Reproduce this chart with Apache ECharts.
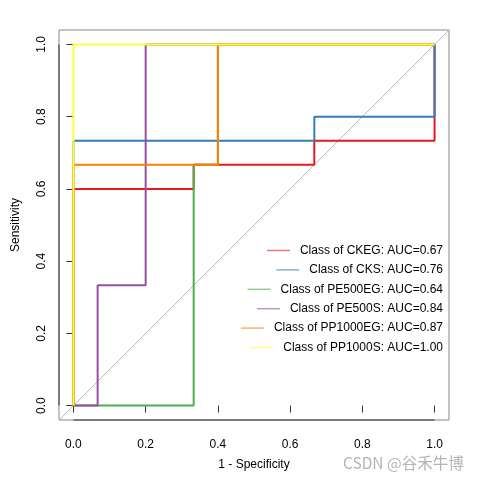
<!DOCTYPE html>
<html>
<head>
<meta charset="utf-8">
<script src="https://cdn.jsdelivr.net/npm/echarts@6/dist/echarts.min.js"></script>
<style>html,body{margin:0;padding:0;background:#fff}#c{width:480px;height:480px}</style>
</head>
<body>
<div id="c"></div>
<script>
// ---- data ----
var classNames = ['CKEG', 'CKS', 'PE500EG', 'PE500S', 'PP1000EG', 'PP1000S'];
var aucValues = ['0.67', '0.76', '0.64', '0.84', '0.87', '1.00'];
// ROC corner points: x = 1 - Specificity, y = Sensitivity
var fprCKEG     = [0, 0,   0.333, 0.333, 0.667, 0.667, 1,     1];
var tprCKEG     = [0, 0.6, 0.6,   0.667, 0.667, 0.733, 0.733, 1];
var fprCKS      = [0, 0,     0.667, 0.667, 1,   1];
var tprCKS      = [0, 0.733, 0.733, 0.8,   0.8, 1];
var fprPE500EG  = [0, 0.333, 0.333, 0.4,   0.4, 1];
var tprPE500EG  = [0, 0,     0.667, 0.667, 1,   1];
var fprPE500S   = [0, 0.067, 0.067, 0.2,   0.2, 1];
var tprPE500S   = [0, 0,     0.333, 0.333, 1,   1];
var fprPP1000EG = [0, 0,     0.4,   0.4, 1];
var tprPP1000EG = [0, 0.667, 0.667, 1,   1];
var fprPP1000S  = [0, 0, 1];
var tprPP1000S  = [0, 1, 1];
var xTicks = [0, 0.2, 0.4, 0.6, 0.8, 1.0];
var yTicks = [0, 0.2, 0.4, 0.6, 0.8, 1.0];
var axisMin = -0.04, axisMax = 1.04;

var fprs = [fprCKEG, fprCKS, fprPE500EG, fprPE500S, fprPP1000EG, fprPP1000S];
var tprs = [tprCKEG, tprCKS, tprPE500EG, tprPE500S, tprPP1000EG, tprPP1000S];
var colors = ['#E41A1C', '#377EB8', '#4DAF4A', '#984EA3', '#FF7F00', '#FFFF33'];

function zip(a, b) { return a.map(function (v, i) { return [v, b[i]]; }); }

var series = [];
// diagonal reference line (abline a=0,b=1) across the whole plot region
series.push({
  type: 'line', name: '_diag', data: [[axisMin, axisMin], [axisMax, axisMax]],
  symbol: 'none', silent: true, clip: false,
  lineStyle: { color: '#bbbbbb', width: 1 }, z: 1
});
// axis segments from first to last tick (R style)
series.push({
  type: 'line', name: '_xaxis', data: [[xTicks[0], axisMin], [xTicks[xTicks.length - 1], axisMin]],
  symbol: 'none', silent: true, clip: false, lineStyle: { color: '#333', width: 1 }, z: 5
});
series.push({
  type: 'line', name: '_yaxis', data: [[axisMin, yTicks[0]], [axisMin, yTicks[yTicks.length - 1]]],
  symbol: 'none', silent: true, clip: false, lineStyle: { color: '#333', width: 1 }, z: 5
});

var legends = [];
classNames.forEach(function (n, i) {
  var name = 'Class of ' + n + ': AUC=' + aucValues[i];
  series.push({
    type: 'line', name: name, data: zip(fprs[i], tprs[i]),
    symbol: 'none', color: colors[i],
    lineStyle: { color: colors[i], width: 2 }, z: 2 + i * 0.01
  });
  legends.push({
    data: [name], right: 32, top: 239.5 + i * 19.4,
    icon: 'rect', itemWidth: 23, itemHeight: 1.5,
    itemStyle: { opacity: 0.6 },
    selectedMode: false,
    textStyle: { fontFamily: 'Liberation Sans', fontSize: 12, color: '#000', padding: [0, 0, 0, 5] }
  });
});

var chart = echarts.init(document.getElementById('c'), null, { renderer: 'canvas' });
chart.setOption({
  animation: false,
  backgroundColor: '#fff',
  grid: { left: 59, right: 31, top: 30, bottom: 60, show: true, borderColor: '#888', borderWidth: 1, backgroundColor: 'transparent' },
  legend: legends,
  xAxis: {
    type: 'value', min: axisMin, max: axisMax,
    name: '1 - Specificity', nameLocation: 'middle', nameGap: 39,
    nameTextStyle: { fontFamily: 'Liberation Sans', fontSize: 12, color: '#000' },
    axisLine: { show: false },
    axisTick: { show: true, inside: false, length: 7, customValues: xTicks, lineStyle: { color: '#333' } },
    axisLabel: { customValues: xTicks, margin: 19, fontFamily: 'Liberation Sans', fontSize: 12, color: '#000',
      formatter: function (v) { return v.toFixed(1); } },
    splitLine: { show: false }
  },
  yAxis: {
    type: 'value', min: axisMin, max: axisMax,
    name: 'Sensitivity', nameLocation: 'middle', nameGap: 37, nameRotate: 90,
    nameTextStyle: { fontFamily: 'Liberation Sans', fontSize: 12, color: '#000' },
    axisLine: { show: false },
    axisTick: { show: true, inside: false, length: 7, customValues: yTicks, lineStyle: { color: '#333' } },
    axisLabel: { customValues: yTicks, margin: 11, rotate: 90, fontFamily: 'Liberation Sans', fontSize: 12, color: '#000',
      formatter: function (v) { return v.toFixed(1); } },
    splitLine: { show: false }
  },
  graphic: [{
    type: 'text', left: 343, top: 455,
    style: { text: 'CSDN @谷禾牛博', fontFamily: 'Noto Sans CJK SC', fontSize: 15.5, fill: '#b4b4b4' }
  }],
  series: series
});
</script>
</body>
</html>
